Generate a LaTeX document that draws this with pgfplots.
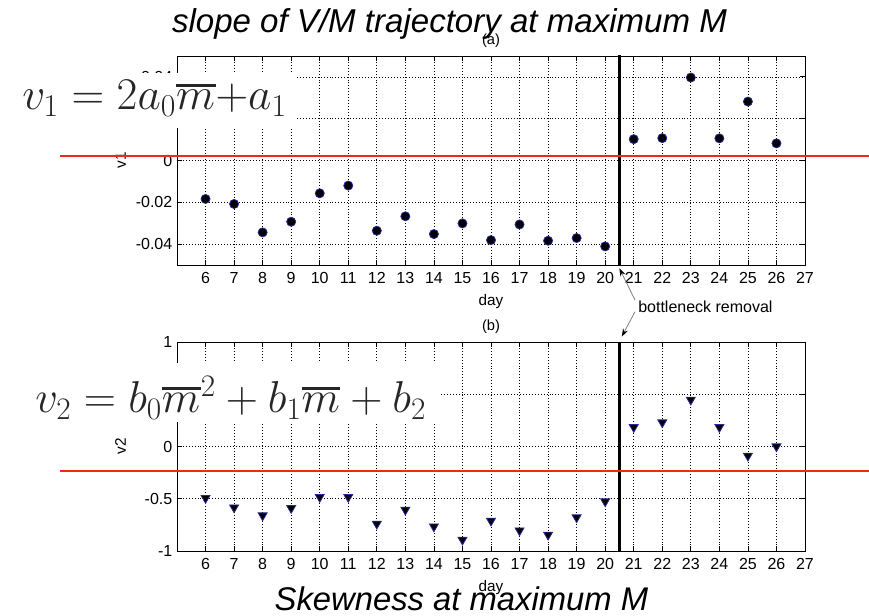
\RequirePackage{fix-cm}
\documentclass[border=0pt]{standalone}
\usepackage{fontspec}
\setmainfont{Liberation Sans}
\usepackage{pgfplots}
\pgfplotsset{compat=1.18}
\usetikzlibrary{arrows.meta}
\definecolor{mred}{RGB}{240,40,20}
\definecolor{medge}{RGB}{40,40,150}
% m with a heavy bar, as in the pasted formula images
\newcommand{\mbar}{\mathord{\vbox{\hrule height 2.4pt\kern 2.6pt\hbox{$m$\kern0.5pt}}}}

\pgfplotsset{
  panel/.style={
    scale only axis, width=471pt, height=156.75pt,
    xmin=5, xmax=27, xtick={6,...,27},
    grid=major,
    grid style={black, line width=0.5pt, dash pattern=on 0.5pt off 1.7pt},
    axis line style={black, line width=0.7pt},
    tick style={black, line width=0.6pt},
    tick align=inside, major tick length=4pt,
    ticklabel style={font=\fontsize{12}{14}\selectfont},
    xticklabel style={yshift=-2pt},
    xlabel style={font=\fontsize{11.5}{13}\selectfont, yshift=-1pt},
    ylabel style={font=\fontsize{11.5}{13}\selectfont, at={(axis description cs:-0.09,0.5)}, anchor=center},
    title style={font=\fontsize{11}{13}\selectfont, yshift=-3pt},
    /pgf/number format/assume math mode=true,
    /pgf/number format/fixed,
    scaled y ticks=false,
    xlabel={day},
    clip=false,
  },
}

\begin{document}
\begin{tikzpicture}
\useasboundingbox (0,0) rectangle (651.75pt,-462pt);

% (a) slope
\begin{axis}[panel, at={(132.75pt,-198.75pt)}, anchor=south west,
    ymin=-0.05, ymax=0.05, ytick={-0.04,-0.02,0,0.02,0.04},
    ylabel={v1}, title={(a)}]
\addplot[only marks, mark=*, mark size=3.4pt, fill=black, draw=medge, line width=0.6pt]
  coordinates {
  (6,-0.0184) (7,-0.0208) (8,-0.0344) (9,-0.0293) (10,-0.0157) (11,-0.0120)
  (12,-0.0336) (13,-0.0267) (14,-0.0352) (15,-0.0301) (16,-0.0381) (17,-0.0306)
  (18,-0.0384) (19,-0.0371) (20,-0.0411)
  (21,0.0102) (22,0.0107) (23,0.0397) (24,0.0106) (25,0.0282) (26,0.0082)};
\addplot[black, line width=2.8pt, no marks] coordinates {(20.5,-0.05) (20.5,0.0505)};
\end{axis}

% (b) skewness
\begin{axis}[panel, at={(132.75pt,-413.25pt)}, anchor=south west,
    ymin=-1, ymax=1, ytick={-1,-0.5,0,0.5,1},
    ylabel={v2}, title={(b)}]
\addplot[only marks, mark=triangle*, mark size=3.9pt, fill=black, draw=medge, line width=0.6pt,
    every mark/.append style={rotate=180}]
  coordinates {
  (6,-0.494) (7,-0.584) (8,-0.660) (9,-0.590) (10,-0.484) (11,-0.484)
  (12,-0.740) (13,-0.606) (14,-0.766) (15,-0.893) (16,-0.711) (17,-0.804)
  (18,-0.845) (19,-0.679) (20,-0.526)
  (21,0.185) (22,0.230) (23,0.447) (24,0.185) (25,-0.089) (26,0.000)};
\addplot[black, line width=2.8pt, no marks] coordinates {(20.5,-1) (20.5,1)};
\end{axis}

% formula overlays
\fill[white] (0,-54.75pt) rectangle (222.75pt,-96pt);
\node[anchor=base west, inner sep=0, text=black!85, font=\fontsize{34}{38}\selectfont]
  at (16.5pt,-82.5pt) {$v_1 = 2a_0\mbar{+}a_1$};
\fill[white] (0,-272.25pt) rectangle (330.75pt,-316.5pt);
\node[anchor=base west, inner sep=0, text=black!85, font=\fontsize{33.5}{38}\selectfont]
  at (26.25pt,-309.75pt) {$v_2 = b_0\mbar^2 + b_1\mbar + b_2$};

% red reference lines
\draw[mred, line width=1.5pt] (45pt,-117pt) -- (651.75pt,-117pt);
\draw[mred, line width=1.5pt] (45pt,-353.25pt) -- (651.75pt,-353.25pt);

% bottleneck annotation
\node[anchor=west, inner sep=0, font=\fontsize{12}{14}\selectfont] at (478.5pt,-229.9pt) {bottleneck removal};
\draw[gray, line width=0.6pt, -{Stealth[black, length=6pt, width=4pt]}] (476.25pt,-225pt) -- (464.5pt,-201.2pt);
\draw[gray, line width=0.6pt, -{Stealth[black, length=6pt, width=4pt]}] (476.25pt,-233.8pt) -- (466.3pt,-252.5pt);

% overlay titles
\node[anchor=base, inner sep=0, font=\fontsize{24.8}{28}\selectfont\itshape] at (337.1pt,-24.75pt)
  {slope of V/M trajectory at maximum M};
\node[anchor=base, inner sep=0, font=\fontsize{24.6}{28}\selectfont\itshape] at (346.1pt,-458.25pt)
  {Skewness at maximum M};
\end{tikzpicture}
\end{document}
